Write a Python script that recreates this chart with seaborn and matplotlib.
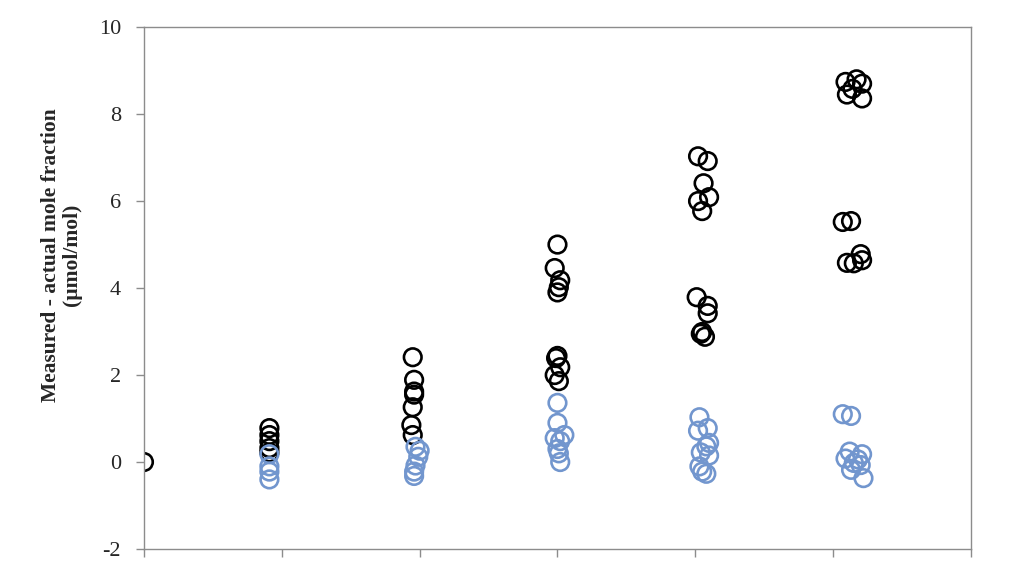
import pandas as pd
import seaborn as sns
import matplotlib.pyplot as plt

# black points (x, y)
black_x = [0.0,
           0.91, 0.91, 0.91, 0.91, 0.91,
           1.95, 1.96, 1.96, 1.96, 1.95, 1.94, 1.95,
           3.00, 2.98, 3.02, 3.01, 3.00, 3.00, 2.99, 3.02, 2.98, 3.01,
           4.02, 4.09, 4.06, 4.10, 4.02, 4.05, 4.01, 4.09, 4.09, 4.05, 4.04, 4.07,
           5.09, 5.17, 5.21, 5.14, 5.10, 5.21, 5.07, 5.13, 5.20, 5.10, 5.15, 5.21]
black_y = [0.0,
           0.78, 0.62, 0.48, 0.32, 0.22,
           2.41, 1.89, 1.62, 1.55, 1.26, 0.85, 0.62,
           5.00, 4.46, 4.18, 4.02, 3.90, 2.44, 2.39, 2.18, 2.00, 1.86,
           7.03, 6.92, 6.41, 6.09, 6.00, 5.77, 3.79, 3.59, 3.42, 2.99, 2.95, 2.88,
           8.74, 8.80, 8.70, 8.58, 8.45, 8.36, 5.52, 5.54, 4.78, 4.58, 4.57, 4.64]

# blue points (x, y)
blue_x = [0.91, 0.91, 0.91, 0.91,
          1.97, 2.00, 1.99, 1.97, 1.96, 1.96,
          3.00, 3.00, 3.05, 2.98, 3.02, 3.00, 3.01, 3.02,
          4.03, 4.09, 4.02, 4.10, 4.08, 4.04, 4.10, 4.03, 4.05, 4.08,
          5.07, 5.13, 5.12, 5.21, 5.09, 5.18, 5.15, 5.20, 5.13, 5.22]
blue_y = [0.18, -0.10, -0.22, -0.40,
          0.35, 0.26, 0.12, -0.08, -0.22, -0.32,
          1.36, 0.90, 0.62, 0.55, 0.48, 0.30, 0.20, 0.00,
          1.03, 0.78, 0.72, 0.44, 0.36, 0.22, 0.15, -0.10, -0.22, -0.27,
          1.10, 1.06, 0.24, 0.18, 0.08, 0.06, -0.02, -0.07, -0.18, -0.37]

df = pd.DataFrame({
    'x': black_x + blue_x,
    'y': black_y + blue_y,
    'grp': ['black'] * len(black_x) + ['blue'] * len(blue_x),
})

sns.set_style('white')
plt.rcParams['font.family'] = ['Liberation Serif', 'DejaVu Serif']
plt.rcParams['axes.unicode_minus'] = False

fig = plt.figure(figsize=(10.21, 5.77), dpi=100)
ax = fig.add_axes([0.141, 0.0485, 0.81, 0.9045])

for grp, col in [('black', 'black'), ('blue', '#7296CE')]:
    sub = df[df['grp'] == grp]
    sns.scatterplot(data=sub, x='x', y='y', ax=ax, s=160, marker='o',
                    facecolors='none', edgecolor=col, linewidth=1.9, legend=False)

ax.set_xlim(0, 6)
ax.set_ylim(-2, 10)
ax.set_xticks(range(7))
ax.set_xticklabels([])
ax.set_yticks(range(-2, 11, 2))
ax.tick_params(axis='both', direction='out', length=6, width=1, color='#8c8c8c',
               left=True, bottom=True, labelsize=16, pad=10.5)
for sp in ax.spines.values():
    sp.set_color('#8c8c8c')
    sp.set_linewidth(1)
ax.set_xlabel('')
ax.set_ylabel('Measured - actual mole fraction\n(µmol/mol)', fontsize=15.5,
              fontweight='bold', linespacing=1.05)
ax.yaxis.set_label_coords(-0.075, 0.563)

fig.savefig('out.png', dpi=100)
